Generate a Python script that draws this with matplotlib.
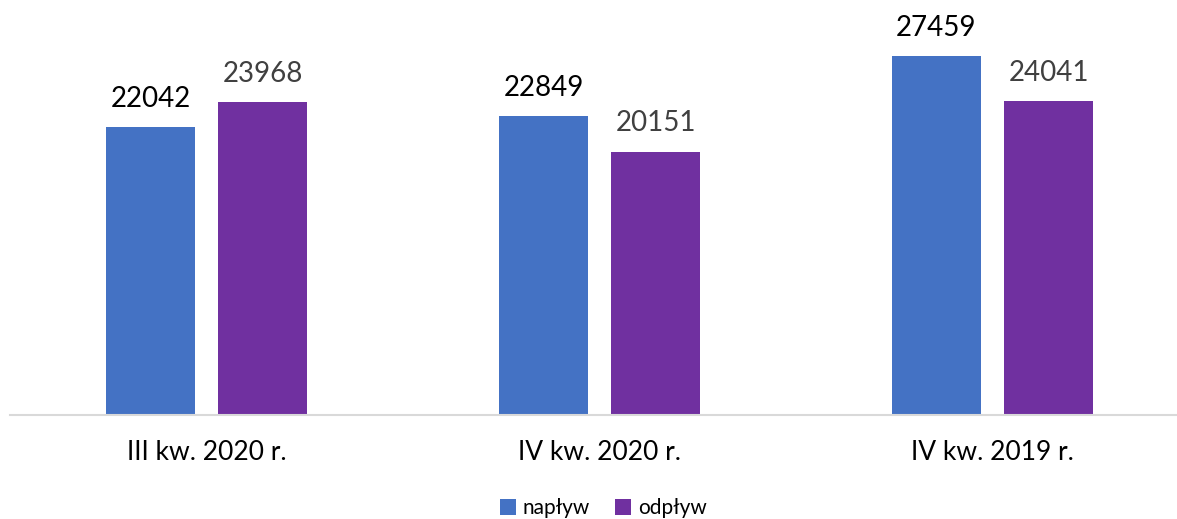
import matplotlib.pyplot as plt
import numpy as np

categories = ['III kw. 2020 r.', 'IV kw. 2020 r.', 'IV kw. 2019 r.']
naplyw = [22042, 22849, 27459]
odplyw = [23968, 20151, 24041]

plt.rcParams['font.family'] = ['Lato', 'DejaVu Sans']

fig = plt.figure(figsize=(11.77, 5.19), dpi=100)
ax = fig.add_axes([10 / 1177, 1 - 415 / 519, 1167 / 1177, 392 / 519])

x = np.arange(len(categories))
w = 0.224
off = 0.1425
b1 = ax.bar(x - off, naplyw, w, color='#4472C4', label='napływ')
b2 = ax.bar(x + off, odplyw, w, color='#7030A0', label='odpływ')

for bars, col in ((b1, '#000000'), (b2, '#404040')):
    for b in bars:
        ax.annotate(str(int(b.get_height())), (b.get_x() + b.get_width() / 2, b.get_height()),
                    xytext=(0, 11), textcoords='offset points', ha='center', va='bottom',
                    fontsize=20, color=col)

ax.set_xlim(-0.5, -0.5 + 1167 / 393)
ax.set_ylim(0, 30000)
ax.set_xticks(x)
ax.set_xticklabels(categories, fontsize=19)
ax.tick_params(axis='x', length=0, pad=18)
ax.set_yticks([])
for s in ['top', 'right', 'left']:
    ax.spines[s].set_visible(False)
ax.spines['bottom'].set_color('#d9d9d9')
ax.spines['bottom'].set_linewidth(1.5)

fig.legend(loc='center', bbox_to_anchor=(603 / 1177, 1 - 508 / 519), ncol=2, frameon=False,
           fontsize=15, handlelength=0.8, handleheight=0.8, handletextpad=0.3, columnspacing=1.2)

fig.savefig('out.png', dpi=100)
